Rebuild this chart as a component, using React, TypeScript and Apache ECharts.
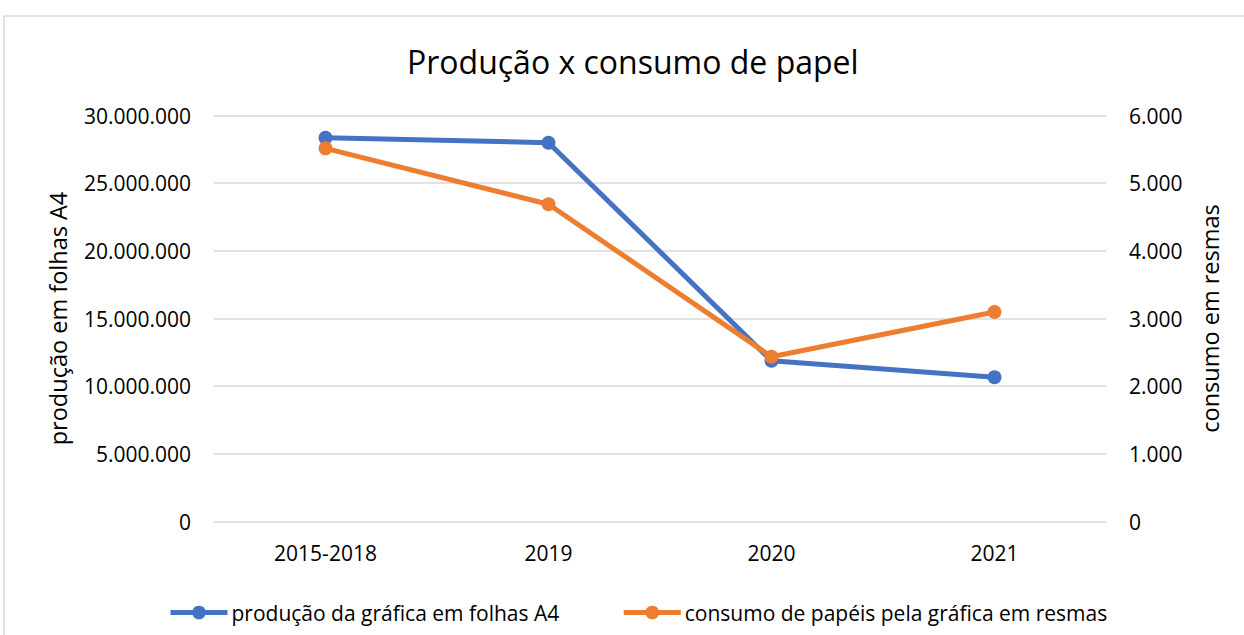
import React, { useEffect, useRef } from "react";
import * as echarts from "echarts";

const categories = ["2015-2018", "2019", "2020", "2021"];
const producao = [28360000, 27990000, 11880000, 10660000];
const consumo = [5515, 4688, 2435, 3096];
const seriesNames = [
  "produção da gráfica em folhas A4",
  "consumo de papéis pela gráfica em resmas",
];
const title = "Produção x consumo de papel";
const leftAxisName = "produção em folhas A4";
const rightAxisName = "consumo em resmas";

const fmt = (v: number) =>
  Math.round(v).toString().replace(/\B(?=(\d{3})+(?!\d))/g, ".");

const FONT = "Open Sans";

export default function App() {
  const ref = useRef<HTMLDivElement>(null);
  useEffect(() => {
    const chart = echarts.init(ref.current!, null, { renderer: "svg" });
    chart.setOption({
      animation: false,
      backgroundColor: "#ffffff",
      textStyle: { fontFamily: FONT },
      title: {
        text: title,
        left: 402,
        top: 40,
        textStyle: { fontFamily: FONT, fontSize: 32, fontWeight: "normal", color: "#000" },
      },
      graphic: [
        {
          type: "rect",
          shape: { x: 4, y: 16, width: 1300, height: 700 },
          style: { fill: "none", stroke: "#d9d9d9", lineWidth: 1.5 },
          silent: true,
        },
      ],
      legend: {
        left: 163,
        top: 597,
        itemWidth: 57,
        itemHeight: 17,
        itemGap: 62,
        lineStyle: { width: 5 },
        textStyle: { fontFamily: FONT, fontSize: 21, color: "#000", padding: [0, 0, 0, -1] },
        data: seriesNames,
      },
      grid: { left: 214, right: 138, top: 115.5, bottom: 113.5, containLabel: false },
      xAxis: {
        type: "category",
        data: categories,
        boundaryGap: true,
        axisLine: { show: false },
        axisTick: { show: false },
        axisLabel: { margin: 21, fontFamily: FONT, fontSize: 21, color: "#000" },
      },
      yAxis: [
        {
          type: "value",
          min: 0,
          max: 30000000,
          interval: 5000000,
          name: leftAxisName,
          nameLocation: "middle",
          nameGap: 144,
          nameTextStyle: { fontFamily: FONT, fontSize: 23.5, color: "#000", padding: [0, 0, 0, 0] },
          axisLine: { show: false },
          axisTick: { show: false },
          axisLabel: { margin: 23, fontFamily: FONT, fontSize: 21, color: "#000", formatter: fmt },
          splitLine: { lineStyle: { color: "#d9d9d9", width: 1.5 } },
        },
        {
          type: "value",
          min: 0,
          max: 6000,
          interval: 1000,
          name: rightAxisName,
          nameLocation: "middle",
          nameGap: 92,
          nameTextStyle: { fontFamily: FONT, fontSize: 23.5, color: "#000" },
          axisLine: { show: false },
          axisTick: { show: false },
          axisLabel: { margin: 23, fontFamily: FONT, fontSize: 21, color: "#000", formatter: fmt },
          splitLine: { show: false },
        },
      ],
      series: [
        {
          name: seriesNames[0],
          type: "line",
          yAxisIndex: 0,
          data: producao,
          symbol: "circle",
          symbolSize: 14,
          lineStyle: { width: 5, color: "#4472C4" },
          itemStyle: { color: "#4472C4" },
        },
        {
          name: seriesNames[1],
          type: "line",
          yAxisIndex: 1,
          data: consumo,
          symbol: "circle",
          symbolSize: 14,
          lineStyle: { width: 5, color: "#ED7D31" },
          itemStyle: { color: "#ED7D31" },
        },
      ],
    });
    return () => chart.dispose();
  }, []);
  return (
    <div
      ref={ref}
      style={{ position: "fixed", left: 0, top: 0, width: 1244, height: 635 }}
    />
  );
}
